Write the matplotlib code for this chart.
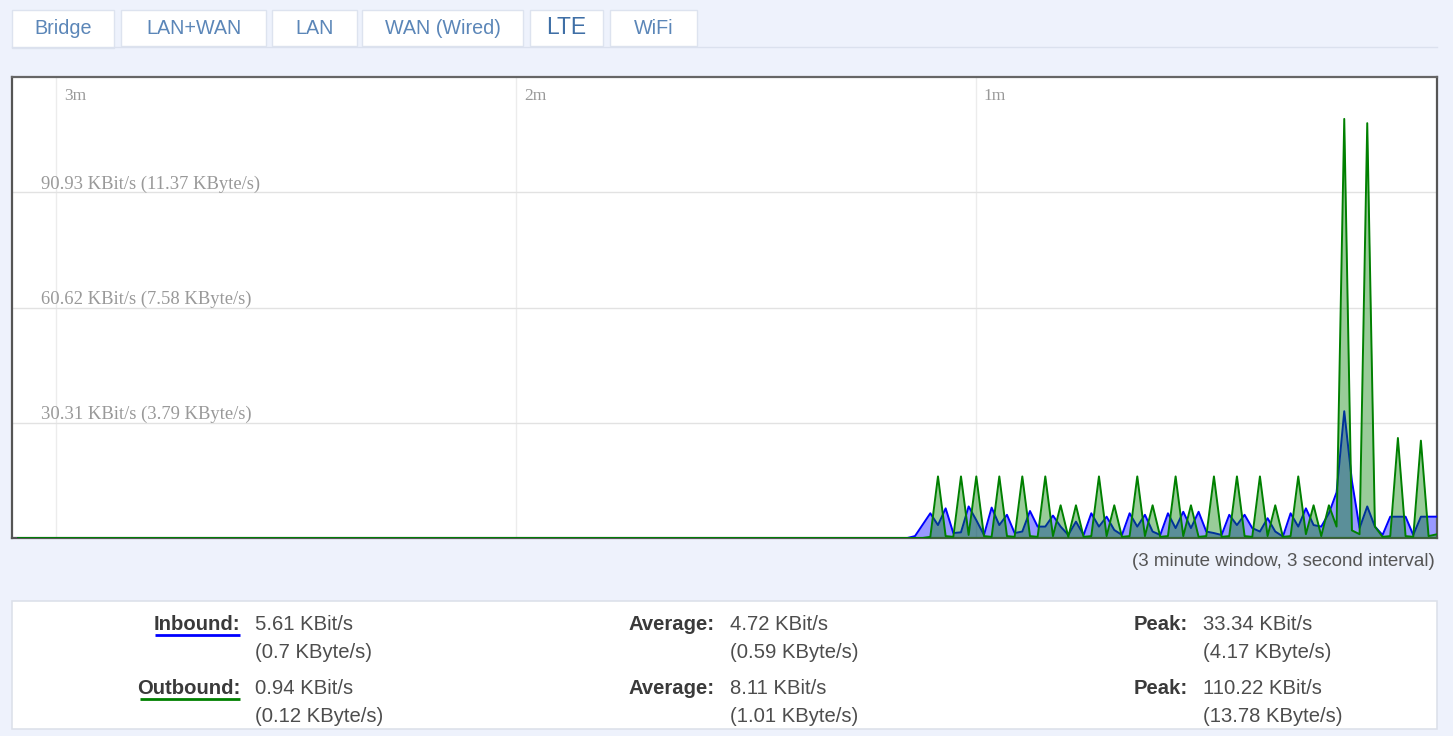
import numpy as np
import matplotlib
matplotlib.use("Agg")
import matplotlib.pyplot as plt
from matplotlib.patches import Rectangle
import matplotlib.transforms as mtransforms

# ---------------- data ----------------
# one sample per second, values in KBit/s; only the most recent 70 s carry traffic
window_seconds = 186
inbound_recent = [
    0, 0.5, 3.5, 6.5, 3.4, 7.8, 1.3, 1.5, 8.3, 4.7,
    0.8, 8.0, 3.4, 6.1, 1.3, 1.7, 7.1, 3.0, 3.0, 5.9,
    3.0, 0.8, 4.3, 0.8, 6.5, 3.0, 5.6, 2.1, 0.8, 6.5,
    3.0, 6.1, 1.7, 0.8, 6.5, 2.6, 6.9, 2.6, 6.9, 1.7,
    1.3, 0.8, 6.1, 3.4, 6.1, 2.6, 1.7, 5.2, 1.7, 0.4,
    6.5, 3.0, 7.8, 3.4, 3.0, 6.5, 12.0, 33.34, 15.0, 2.6,
    8.3, 3.0, 0.8, 5.6, 5.6, 5.6, 0.8, 5.6, 5.6, 5.61,
]
outbound_recent = [
    0, 0, 0, 0.3, 16.2, 0.5, 0.3, 16.2, 0.8, 16.2,
    0.5, 0.3, 16.2, 0.5, 0.3, 16.2, 0.5, 0.3, 16.2, 0.5,
    8.6, 0.3, 8.6, 0.3, 0.5, 16.2, 0.5, 8.6, 0.3, 0.5,
    16.2, 0.5, 8.6, 0.3, 0.5, 16.2, 0.5, 8.6, 0.3, 0.5,
    16.2, 0.3, 0.5, 16.2, 0.5, 0.3, 16.2, 0.5, 8.6, 0.3,
    0.5, 16.2, 1.0, 8.6, 0.5, 8.6, 3.0, 110.22, 2.0, 1.0,
    109.1, 3.0, 0.3, 0.5, 26.3, 0.5, 0.3, 25.6, 0.5, 0.94,
]
y_grid_kbit = [30.31, 60.62, 90.93]
time_marks_s = [60, 120, 180]
time_labels = ["1m", "2m", "3m"]
tab_names = ["Bridge", "LAN+WAN", "LAN", "WAN (Wired)", "LTE", "WiFi"]

stats_rows = [
    ("Inbound:", "5.61", "0.7", "4.72", "0.59", "33.34", "4.17"),
    ("Outbound:", "0.94", "0.12", "8.11", "1.01", "110.22", "13.78"),
]

# ---------------- layout ----------------
W, H, DPI = 1453, 736, 100
BG = "#eef2fc"
SANS = ["Liberation Sans", "DejaVu Sans"]
SERIF = ["Liberation Serif", "DejaVu Serif"]

inbound = np.concatenate([np.zeros(window_seconds - len(inbound_recent)), inbound_recent])
outbound = np.concatenate([np.zeros(window_seconds - len(outbound_recent)), outbound_recent])
x = np.arange(-(window_seconds - 1), 1)

fig = plt.figure(figsize=(W / DPI, H / DPI), dpi=DPI, facecolor=BG)

# background overlay in pixel coordinates
bg = fig.add_axes([0, 0, 1, 1], zorder=0)
bg.set_xlim(0, W)
bg.set_ylim(H, 0)
bg.axis("off")

# tabs
tab_boxes = [(12, 114), (121, 266), (272, 357), (362, 523), (530, 603), (610, 697)]
bg.plot([12, 1437], [47, 47], color="#dbe1ee", lw=1.0)
for name, (x0, x1) in zip(tab_names, tab_boxes):
    active = name == "Bridge"
    bg.add_patch(Rectangle((x0, 10), x1 - x0, (38 if active else 36), facecolor="white",
                           edgecolor="#dde3ef", lw=1.0))
    if name == "LTE":
        bg.text((x0 + x1) / 2, 28, name, ha="center", va="center", fontsize=16.5,
                color="#3f6fa6", family=SANS)
    else:
        bg.text((x0 + x1) / 2, 29, name, ha="center", va="center", fontsize=14.2,
                color="#5b86b8", family=SANS)

# caption under chart
bg.text(1435, 561, "(3 minute window, 3 second interval)", ha="right", va="center",
        fontsize=13.5, color="#555555", family=SANS)

# stats box
bg.add_patch(Rectangle((12, 601), 1425, 128, facecolor="white", edgecolor="#dde1ea", lw=1.2))
row_y = [625, 689]
underline_col = ["#0000ff", "#008000"]
FS = 14.6
for (lab, v, vb, av, avb, pk, pkb), y0, uc in zip(stats_rows, row_y, underline_col):
    bg.text(240, y0, lab, ha="right", va="center", fontsize=FS, fontweight="bold",
            color="#3a3a3a", family=SANS)
    ux0 = 155 if lab == "Inbound:" else 140
    bg.plot([ux0, 240], [y0 + 10, y0 + 10], color=uc, lw=2.0, solid_capstyle="butt")
    for lx, lbl, val, valb in [(240, None, v, vb), (715, "Average:", av, avb), (1188, "Peak:", pk, pkb)]:
        if lbl:
            bg.text(lx, y0, lbl, ha="right", va="center", fontsize=FS, fontweight="bold",
                    color="#3a3a3a", family=SANS)
        bg.text(lx + 15, y0, f"{val} KBit/s", ha="left", va="center", fontsize=FS,
                color="#4d4d4d", family=SANS)
        bg.text(lx + 15, y0 + 27, f"({valb} KByte/s)", ha="left", va="center", fontsize=FS,
                color="#4d4d4d", family=SANS)

# ---------------- chart ----------------
ax = fig.add_axes([12 / W, 1 - 538 / H, (1437 - 12) / W, (538 - 77) / H], zorder=1)
ax.set_facecolor("white")
ax.set_xlim(-185.8, 0.1)
ax.set_ylim(0, 4 * y_grid_kbit[0])

for s, lab in zip(time_marks_s, time_labels):
    ax.axvline(-s, color="#ececec", lw=1.0, zorder=0)
    ax.annotate(lab, xy=(-s, 1), xycoords=("data", "axes fraction"), xytext=(5.5, -13.5),
                textcoords="offset points", ha="left", va="center", fontsize=12.5,
                color="#999999", family=SERIF)

trans = mtransforms.blended_transform_factory(ax.transAxes, ax.transData)
for yv in y_grid_kbit:
    ax.axhline(yv, color="#e2e2e2", lw=1.0, zorder=0)
    ax.annotate(f"{yv:.2f} KBit/s ({yv / 8:.2f} KByte/s)", xy=(0.0204, yv), xycoords=trans,
                xytext=(0, 6), textcoords="offset points", ha="left", va="center",
                fontsize=13.4, color="#999999", family=SERIF)

ax.fill_between(x, inbound, color="blue", alpha=0.4, lw=0, zorder=2)
ax.plot(x, inbound, color="blue", lw=1.4, zorder=3)
ax.fill_between(x, outbound, color="green", alpha=0.4, lw=0, zorder=4)
ax.plot(x, outbound, color="green", lw=1.4, zorder=5)

ax.set_xticks([])
ax.set_yticks([])
for sp in ax.spines.values():
    sp.set_color("#555555")
    sp.set_linewidth(1.6)
ax.spines["top"].set_color("#666666")

fig.savefig("out.png", dpi=DPI, facecolor=BG)
